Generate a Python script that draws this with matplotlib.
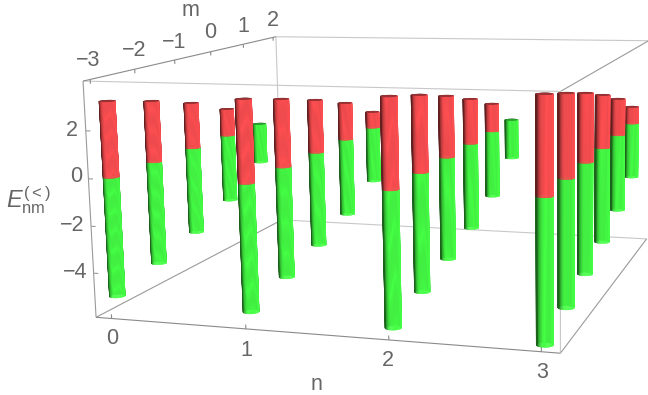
import numpy as np
import matplotlib
matplotlib.use("Agg")
import matplotlib.pyplot as plt
from mpl_toolkits.mplot3d.art3d import Poly3DCollection

# values, one row per n, m = -3 .. 2 (nan = no bar)
n_values = [0, 1, 2, 3]
m_values = [-3, -2, -1, 0, 1, 2]
e_upper = [
    [3.17, 2.67, 2.08, 1.28, 0.0, np.nan],
    [3.40, 2.90, 2.36, 1.72, 0.77, np.nan],
    [3.65, 3.21, 2.68, 2.05, 1.32, 0.0],
    [3.87, 3.42, 2.94, 2.37, 1.70, 0.81],
]
e_lower = [
    [-5.08, -4.56, -3.98, -3.20, -1.97, np.nan],
    [-5.34, -4.82, -4.26, -3.61, -2.70, np.nan],
    [-5.57, -5.08, -4.56, -3.98, -3.20, -1.96],
    [-5.80, -5.35, -4.87, -4.31, -3.61, -2.70],
]
z_ticks = [-4, -2, 0, 2]

nl = (-0.12, 3.12)
ml = (-3.15, 2.1)
zl = (-5.9, 4.05)

W, H = 648, 395
RED = np.array([1.0, 0.31, 0.32])
GREEN = np.array([0.27, 1.0, 0.27])
TEXT = "#666666"
AXIS_DARK = "#9a9a9a"
AXIS_LIGHT = "#c8c8c8"

plt.rcParams["font.family"] = ["Liberation Sans", "DejaVu Sans"]
plt.rcParams["mathtext.fontset"] = "custom"
plt.rcParams["mathtext.rm"] = "Liberation Sans"
plt.rcParams["mathtext.it"] = "Liberation Sans:italic"
plt.rcParams["path.snap"] = False

fig = plt.figure(figsize=(W / 100, H / 100), dpi=100)
ax = fig.add_subplot(projection="3d", computed_zorder=False)

# camera fitted to the box corners of the reference
cx, cy, size = 385.4, 176.8, 639.2
ax.set_position([(cx - size / 2) / W, (H - cy - size / 2) / H, size / W, size / H])
azim = -71.2965
ax.view_init(elev=10.0097, azim=azim, roll=1.111)
ax.set_proj_type("persp", focal_length=0.4377)
ax.set_box_aspect((1, 1.0172, 0.5027))
ax.set_xlim(*nl, view_margin=0)
ax.set_ylim(*ml, view_margin=0)
ax.set_zlim(*zl, view_margin=0)
ax.set_axis_off()

# radius of a bar in data units, so it is round in the box
r_n = 0.054
r_m = r_n * (ml[1] - ml[0]) / (nl[1] - nl[0]) / 1.0172
theta = np.linspace(0, 2 * np.pi, 49)
light = np.deg2rad(-40)


def cylinder(n, m, z0, z1, color, zorder):
    x = n + r_n * np.cos(theta)
    y = m + r_m * np.sin(theta)
    verts, colors = [], []
    for i in range(len(theta) - 1):
        verts.append([(x[i], y[i], z0), (x[i + 1], y[i + 1], z0),
                      (x[i + 1], y[i + 1], z1), (x[i], y[i], z1)])
        mid = (theta[i] + theta[i + 1]) / 2
        lit = max(np.cos(mid - light), 0) ** 0.6
        colors.append(color * min(1.0, 0.38 + 0.8 * lit))
    side = Poly3DCollection(verts, facecolors=colors, edgecolors=colors, linewidths=0.25)
    side.set_zorder(zorder)
    ax.add_collection3d(side)
    cap = Poly3DCollection([list(zip(x, y, np.full_like(x, z1)))],
                           facecolors=[color * 0.62], edgecolors="none")
    cap.set_zorder(zorder + 0.001)
    ax.add_collection3d(cap)


def box_line(a, b, color, zorder=1):
    ax.plot(*zip(a, b), color=color, lw=0.8, zorder=zorder, solid_capstyle="butt")


# box
for a, b, c in [
    ((nl[0], ml[0], zl[1]), (nl[1], ml[0], zl[1]), AXIS_LIGHT),
    ((nl[0], ml[1], zl[1]), (nl[1], ml[1], zl[1]), AXIS_LIGHT),
    ((nl[1], ml[0], zl[1]), (nl[1], ml[1], zl[1]), AXIS_DARK),
    ((nl[0], ml[0], zl[0]), (nl[0], ml[1], zl[0]), AXIS_DARK),
    ((nl[0], ml[1], zl[0]), (nl[1], ml[1], zl[0]), AXIS_LIGHT),
    ((nl[1], ml[0], zl[0]), (nl[1], ml[1], zl[0]), AXIS_DARK),
    ((nl[0], ml[1], zl[0]), (nl[0], ml[1], zl[1]), AXIS_LIGHT),
    ((nl[1], ml[0], zl[0]), (nl[1], ml[0], zl[1]), AXIS_LIGHT),
    ((nl[0], ml[0], zl[0]), (nl[0], ml[0], zl[1]), AXIS_DARK),
    ((nl[0], ml[0], zl[0]), (nl[1], ml[0], zl[0]), "#8a8a8a"),
    ((nl[0], ml[0], zl[1]), (nl[0], ml[1], zl[1]), "#8a8a8a"),
]:
    box_line(a, b, c)

# ticks
for n in n_values:
    box_line((n, ml[0], zl[0]), (n, ml[0], zl[0] + 0.18), "#8a8a8a")
for m in m_values:
    box_line((nl[0], m, zl[1]), (nl[0], m, zl[1] - 0.18), "#8a8a8a")
for z in z_ticks:
    box_line((nl[0], ml[0], z), (nl[0] + 0.035, ml[0], z), AXIS_DARK)

# bars
for i, n in enumerate(n_values):
    for j, m in enumerate(m_values):
        low, up = e_lower[i][j], e_upper[i][j]
        if np.isnan(low):
            continue
        xb = (n - nl[0]) / (nl[1] - nl[0])
        yb = (m - ml[0]) / (ml[1] - ml[0]) * 1.0172
        zo = 10 + xb * np.cos(np.deg2rad(azim)) + yb * np.sin(np.deg2rad(azim))
        cylinder(n, m, low, 0.0, GREEN, zo)
        if up > 0:
            cylinder(n, m, 0.0, up, RED, zo + 0.01)


def px_text(x, y, s, size=15.5):
    fig.text(x / W, 1 - y / H, s, ha="center", va="center", color=TEXT, fontsize=size)


for s, x, y in zip(["−3", "−2", "−1", "0", "1", "2"],
                   [88, 134, 174, 210, 243, 273], [61, 51, 42, 33, 26, 20]):
    px_text(x, y, s)
for s, x, y in zip(["0", "1", "2", "3"], [112, 246, 388, 542], [338, 350, 360, 372]):
    px_text(x, y, s)
for s, x, y in zip(["2", "0", "−2", "−4"], [72, 76, 72, 75], [130, 177, 225, 272]):
    px_text(x, y, s)
px_text(191, 10, "m")
px_text(317, 384, "n")
px_text(28, 200, r"$E_{\mathrm{nm}}^{({<})}$", size=17)

fig.savefig("out.png", dpi=100)
